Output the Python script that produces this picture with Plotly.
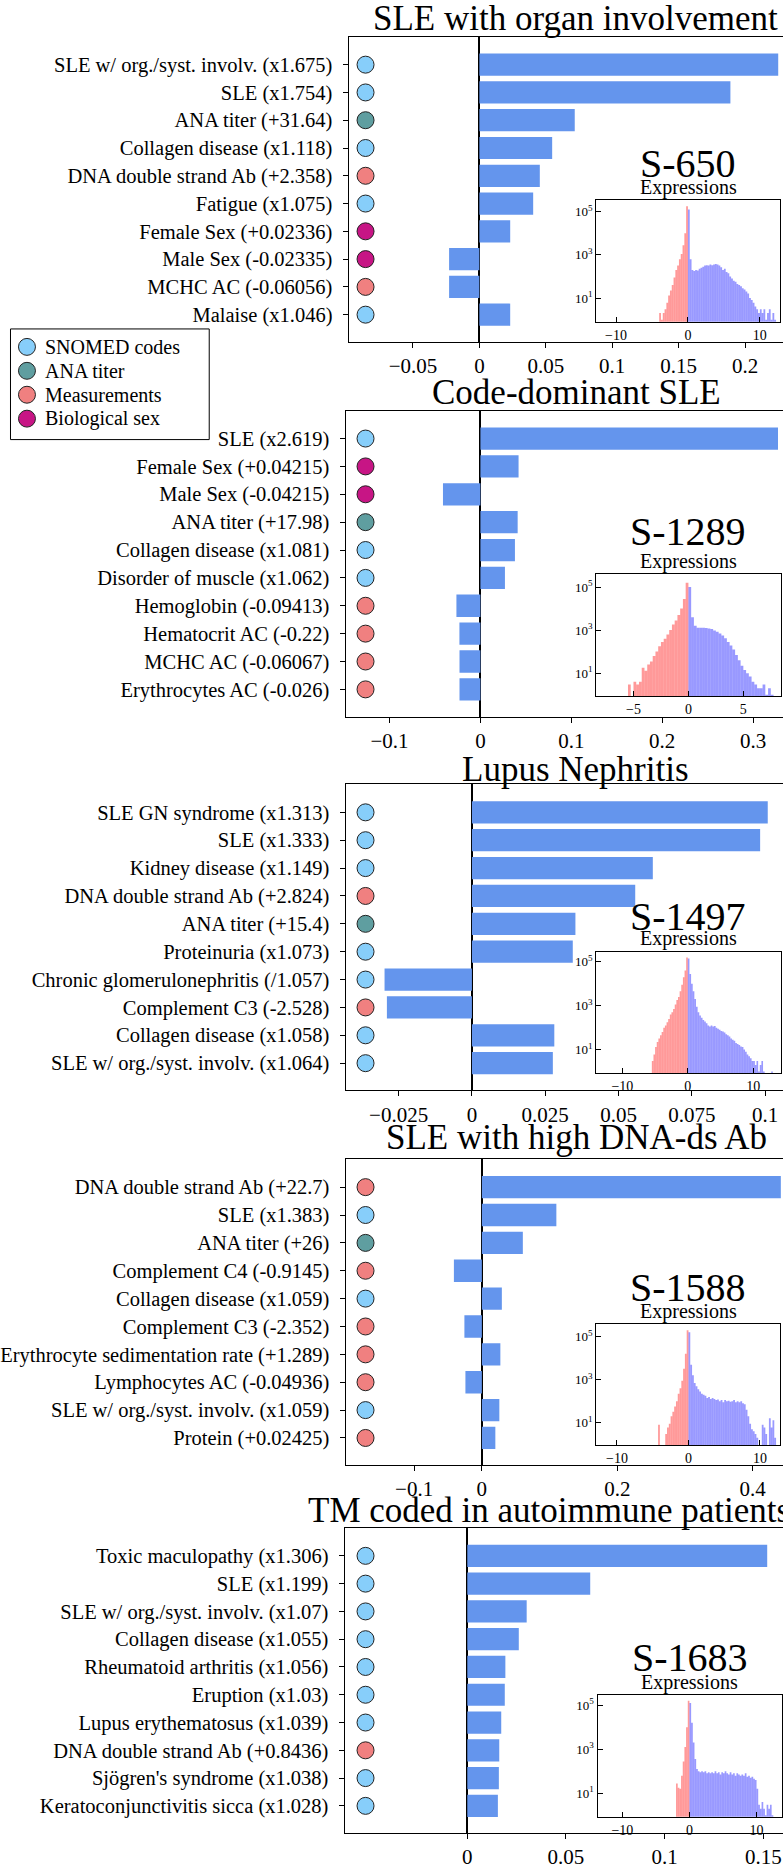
import plotly.graph_objects as go

# ---------------- data ----------------
CATEGORY_NAMES = {"S": "SNOMED codes", "A": "ANA titer", "M": "Measurements", "B": "Biological sex"}
CATEGORY_ORDER = ["S", "A", "M", "B"]

titles = ["SLE with organ involvement", "Code-dominant SLE", "Lupus Nephritis",
          "SLE with high DNA-ds Ab", "TM coded in autoimmune patients"]
inset_names = ["S-650", "S-1289", "S-1497", "S-1588", "S-1683"]

labels_1 = ["SLE w/ org./syst. involv. (x1.675)", "SLE (x1.754)", "ANA titer (+31.64)",
            "Collagen disease (x1.118)", "DNA double strand Ab (+2.358)", "Fatigue (x1.075)",
            "Female Sex (+0.02336)", "Male Sex (-0.02335)", "MCHC AC (-0.06056)", "Malaise (x1.046)"]
values_1 = [0.225, 0.189, 0.0718, 0.0548, 0.0455, 0.0405, 0.0232, -0.0228, -0.0228, 0.0232]
cats_1 = ["S", "S", "A", "S", "M", "S", "B", "B", "M", "S"]

labels_2 = ["SLE (x2.619)", "Female Sex (+0.04215)", "Male Sex (-0.04215)", "ANA titer (+17.98)",
            "Collagen disease (x1.081)", "Disorder of muscle (x1.062)", "Hemoglobin (-0.09413)",
            "Hematocrit AC (-0.22)", "MCHC AC (-0.06067)", "Erythrocytes AC (-0.026)"]
values_2 = [0.3275, 0.042, -0.0412, 0.041, 0.038, 0.027, -0.0264, -0.0231, -0.023, -0.023]
cats_2 = ["S", "B", "B", "A", "S", "S", "M", "M", "M", "M"]

labels_3 = ["SLE GN syndrome (x1.313)", "SLE (x1.333)", "Kidney disease (x1.149)",
            "DNA double strand Ab (+2.824)", "ANA titer (+15.4)", "Proteinuria (x1.073)",
            "Chronic glomerulonephritis (/1.057)", "Complement C3 (-2.528)",
            "Collagen disease (x1.058)", "SLE w/ org./syst. involv. (x1.064)"]
values_3 = [0.1009, 0.0983, 0.0617, 0.0557, 0.0353, 0.0344, -0.0298, -0.029, 0.0281, 0.0276]
cats_3 = ["S", "S", "S", "M", "A", "S", "S", "M", "S", "S"]

labels_4 = ["DNA double strand Ab (+22.7)", "SLE (x1.383)", "ANA titer (+26)",
            "Complement C4 (-0.9145)", "Collagen disease (x1.059)", "Complement C3 (-2.352)",
            "Erythrocyte sedimentation rate (+1.289)", "Lymphocytes AC (-0.04936)",
            "SLE w/ org./syst. involv. (x1.059)", "Protein (+0.02425)"]
values_4 = [0.4415, 0.110, 0.0605, -0.0413, 0.0295, -0.0258, 0.0273, -0.0243, 0.0258, 0.0199]
cats_4 = ["M", "S", "A", "M", "S", "M", "M", "M", "S", "M"]

labels_5 = ["Toxic maculopathy (x1.306)", "SLE (x1.199)", "SLE w/ org./syst. involv. (x1.07)",
            "Collagen disease (x1.055)", "Rheumatoid arthritis (x1.056)", "Eruption (x1.03)",
            "Lupus erythematosus (x1.039)", "DNA double strand Ab (+0.8436)",
            "Sjögren's syndrome (x1.038)", "Keratoconjunctivitis sicca (x1.028)"]
values_5 = [0.152, 0.0623, 0.0301, 0.0261, 0.0193, 0.019, 0.0172, 0.0162, 0.016, 0.0155]
cats_5 = ["S", "S", "S", "S", "S", "S", "S", "M", "S", "S"]

xticks_1 = [-0.05, 0, 0.05, 0.1, 0.15, 0.2]
xticktext_1 = ["\u22120.05", "0", "0.05", "0.1", "0.15", "0.2"]
xticks_2 = [-0.1, 0, 0.1, 0.2, 0.3]
xticktext_2 = ["\u22120.1", "0", "0.1", "0.2", "0.3"]
xticks_3 = [-0.025, 0, 0.025, 0.05, 0.075, 0.1]
xticktext_3 = ["\u22120.025", "0", "0.025", "0.05", "0.075", "0.1"]
xticks_4 = [-0.1, 0, 0.2, 0.4]
xticktext_4 = ["\u22120.1", "0", "0.2", "0.4"]
xticks_5 = [0, 0.05, 0.1, 0.15]
xticktext_5 = ["0", "0.05", "0.1", "0.15"]

# histogram counts of expressions, bins of width HIST_BIN going outwards from 0
HIST_BIN = 0.25
hist_red_1 = [178000, 10000, 2800, 1100, 630, 316, 200, 90, 40, 22, 13, 6, 3, 2, 1, 2]
hist_blue_1 = [126000, 630, 200, 178, 200, 190, 224, 250, 280, 316, 330, 316, 355, 330, 355, 380,
               355, 316, 263, 200, 224, 158, 141, 100, 80, 63, 56, 45, 40, 35, 28, 25, 20, 16, 10,
               8, 6, 4, 3, 2, 3, 2, 3, 1, 2, 3, 1, 2, 1]
hist_red_2 = [158000, 28000, 10000, 5000, 2800, 1800, 1000, 630, 400, 280, 180, 100, 63, 35, 25,
              13, 18, 4, 3, 4, 0, 3]
hist_blue_2 = [100000, 4000, 1600, 1300, 1300, 1300, 1250, 1200, 1120, 950, 830, 700, 560, 420,
               280, 190, 126, 70, 40, 22, 14, 10, 7, 4, 3, 2, 2, 3, 1, 2, 1]
hist_red_3 = [158000, 40000, 20000, 9000, 4500, 2500, 1800, 1120, 700, 500, 400, 250, 178, 126,
              100, 63, 45, 32, 22, 13, 6, 3]
hist_blue_3 = [141000, 28000, 10000, 4500, 2000, 900, 500, 355, 280, 224, 190, 158, 126, 112, 126,
               112, 120, 100, 90, 80, 71, 66, 60, 50, 45, 40, 32, 28, 25, 20, 18, 16, 14, 13, 10,
               8, 6, 5, 4, 3, 3, 2, 3, 1, 2, 3, 1, 0, 0, 0, 0, 1]
hist_red_4 = [200000, 16000, 3200, 900, 400, 224, 100, 56, 32, 20, 9, 6, 3, 0, 0, 0, 8]
hist_blue_4 = [158000, 5000, 1600, 700, 500, 355, 280, 224, 200, 178, 141, 158, 126, 141, 126, 112,
               120, 100, 112, 90, 112, 100, 105, 95, 100, 112, 90, 100, 90, 100, 80, 71, 40, 20, 9,
               5, 4, 3, 2, 0, 0, 8, 6, 3, 0, 16, 6, 13, 2]
hist_red_5 = [158000, 10000, 1260, 280, 63, 16, 18, 28]
hist_blue_5 = [126000, 16000, 2000, 355, 126, 100, 90, 100, 90, 100, 80, 90, 80, 90, 80, 100, 80,
               90, 71, 90, 80, 100, 80, 71, 90, 71, 80, 63, 80, 71, 63, 71, 63, 80, 56, 63, 50, 56,
               45, 40, 16, 3, 2, 4, 2, 1, 3, 2, 3, 1]

inset_xticks_1 = [-10, 0, 10]
inset_xticks_2 = [-5, 0, 5]
inset_xticks_3 = [-10, 0, 10]
inset_xticks_4 = [-10, 0, 10]
inset_xticks_5 = [-10, 0, 10]
log_ticks = [10, 1000, 100000]
log_ticktext = ["10<sup>1</sup>", "10<sup>3</sup>", "10<sup>5</sup>"]

# ---------------- styling / layout ----------------
W, H = 783, 1869
FONT = "Liberation Serif"
BAR_COLOR = "#6495ED"
CAT_COLORS = {"S": "#87CEFA", "A": "#5F9EA0", "M": "#F08080", "B": "#C71585"}
CIRCLE_X = 365  # pixel column of the category circles


def px_x(x):
    return x / W


def px_y(y):
    return 1 - y / H


data = [
    (labels_1, values_1, cats_1, xticks_1, xticktext_1, hist_red_1, hist_blue_1, inset_xticks_1),
    (labels_2, values_2, cats_2, xticks_2, xticktext_2, hist_red_2, hist_blue_2, inset_xticks_2),
    (labels_3, values_3, cats_3, xticks_3, xticktext_3, hist_red_3, hist_blue_3, inset_xticks_3),
    (labels_4, values_4, cats_4, xticks_4, xticktext_4, hist_red_4, hist_blue_4, inset_xticks_4),
    (labels_5, values_5, cats_5, xticks_5, xticktext_5, hist_red_5, hist_blue_5, inset_xticks_5),
]

geom = [
    dict(L=348, T=37, B=343, xr=[-0.0985, 0.2286], ty=19, tx=575, ta="center",
         il=596, ir=780, it=201, ib=322.7, ixr=[-12.75, 12.8], iyr=[-0.094, 5.52], sy=164, ey=188),
    dict(L=345, T=412, B=719, xr=[-0.1484, 0.333], ty=394, tx=576, ta="center",
         il=596, ir=780.7, it=576, ib=698.3, ixr=[-8.39, 8.4], iyr=[-0.065, 5.6], sy=533, ey=563),
    dict(L=345, T=787, B=1094, xr=[-0.0431, 0.1061], ty=772, tx=575, ta="center",
         il=596, ir=780.7, it=955, ib=1076.7, ixr=[-14.0, 14.2], iyr=[-0.077, 5.45], sy=919, ey=942),
    dict(L=345, T=1163, B=1470, xr=[-0.2013, 0.4447], ty=1141, tx=576, ta="center",
         il=596, ir=780, it=1328, ib=1449.7, ixr=[-12.9, 12.8], iyr=[-0.04, 5.6], sy=1292, ey=1316),
    dict(L=344, T=1533, B=1839, xr=[-0.0622, 0.1600], ty=1515, tx=305, ta="left",
         il=597.3, ir=781.7, it=1700, ib=1822.7, ixr=[-13.7, 13.75], iyr=[-0.07, 5.48], sy=1663, ey=1688),
]

fig = go.Figure()
layout = dict(width=W, height=H, margin=dict(l=0, r=0, t=0, b=0),
              paper_bgcolor="white", plot_bgcolor="white", barmode="overlay",
              font=dict(family=FONT, color="black"), showlegend=False)
annotations = []
shapes = []

for i, ((labels, values, cats, xt, xtt, hred, hblue, ixt), g) in enumerate(zip(data, geom)):
    mi = 2 * i + 1
    ii = 2 * i + 2
    mx, my = f"x{mi}", f"y{mi}"
    ix, iy = f"x{ii}", f"y{ii}"

    # main bars
    fig.add_trace(go.Bar(x=values, y=labels, orientation="h", width=0.8,
                         marker=dict(color=BAR_COLOR, line=dict(width=0)),
                         xaxis=mx, yaxis=my, hoverinfo="x+y"))
    # category circles placed near left edge of axes
    xmin, xmax = g["xr"]
    marker_x = xmin + (CIRCLE_X - g["L"]) / (W - g["L"]) * (xmax - xmin)
    for c in CATEGORY_ORDER:
        ys = [lab for lab, cc in zip(labels, cats) if cc == c]
        if not ys:
            continue
        fig.add_trace(go.Scatter(x=[marker_x] * len(ys), y=ys, mode="markers",
                                 marker=dict(size=17, color=CAT_COLORS[c],
                                             line=dict(color="#222222", width=1)),
                                 name=CATEGORY_NAMES[c], xaxis=mx, yaxis=my))

    # inset histograms
    red_x = [-(k + 0.5) * HIST_BIN for k in range(len(hred))]
    blue_x = [(k + 0.5) * HIST_BIN for k in range(len(hblue))]
    fig.add_trace(go.Bar(x=red_x, y=[v if v > 0 else None for v in hred], width=HIST_BIN,
                         marker=dict(color="rgba(255,0,0,0.4)", line=dict(width=0)),
                         xaxis=ix, yaxis=iy))
    fig.add_trace(go.Bar(x=blue_x, y=[v if v > 0 else None for v in hblue], width=HIST_BIN,
                         marker=dict(color="rgba(0,0,255,0.4)", line=dict(width=0)),
                         xaxis=ix, yaxis=iy))

    suffix_m = "" if mi == 1 else str(mi)
    suffix_i = str(ii)
    layout["xaxis" + suffix_m] = dict(
        domain=[px_x(g["L"]), 1.0], range=g["xr"], anchor=my,
        showline=True, mirror=True, linecolor="black", linewidth=1,
        showgrid=False, zeroline=True, zerolinecolor="black", zerolinewidth=2,
        ticks="outside", ticklen=5, tickwidth=1, tickcolor="black",
        tickmode="array", tickvals=xt, ticktext=xtt,
        tickfont=dict(family=FONT, size=21, color="black"))
    layout["yaxis" + suffix_m] = dict(
        domain=[px_y(g["B"]), px_y(g["T"])], anchor=mx, type="category",
        categoryorder="array", categoryarray=labels, range=[9.98, -1.0],
        showline=True, mirror=False, linecolor="black", linewidth=1, showgrid=False,
        zeroline=False, ticks="outside", ticklen=5, tickwidth=1, tickcolor="black",
        tickmode="array", tickvals=labels, ticktext=labels, ticklabelstandoff=6,
        tickfont=dict(family=FONT, size=20.5, color="black"))
    layout["xaxis" + suffix_i] = dict(
        domain=[px_x(g["il"]), px_x(g["ir"])], range=g["ixr"], anchor=iy,
        showline=True, mirror=True, linecolor="black", linewidth=1.3, showgrid=False,
        zeroline=False, ticks="inside", ticklen=5, tickwidth=1, tickcolor="black",
        tickmode="array", tickvals=ixt,
        ticktext=[("\u2212" + str(-v)) if v < 0 else str(v) for v in ixt],
        tickfont=dict(family=FONT, size=14, color="black"))
    layout["yaxis" + suffix_i] = dict(
        domain=[px_y(g["ib"]), px_y(g["it"])], range=g["iyr"], anchor=ix, type="log",
        showline=True, mirror=True, linecolor="black", linewidth=1.3, showgrid=False,
        zeroline=False, ticks="inside", ticklen=5, tickwidth=1, tickcolor="black",
        tickmode="array", tickvals=log_ticks, ticktext=log_ticktext,
        tickfont=dict(family=FONT, size=13, color="black"))

    annotations.append(dict(text=titles[i], x=px_x(g["tx"]), y=px_y(g["ty"]),
                            xref="paper", yref="paper", xanchor=g["ta"], yanchor="middle",
                            showarrow=False, font=dict(family=FONT, size=35, color="black")))
    icx = (g["il"] + g["ir"]) / 2
    annotations.append(dict(text=inset_names[i], x=px_x(icx), y=px_y(g["sy"]),
                            xref="paper", yref="paper", xanchor="center", yanchor="middle",
                            showarrow=False, font=dict(family=FONT, size=40, color="black")))
    annotations.append(dict(text="Expressions", x=px_x(icx), y=px_y(g["ey"]),
                            xref="paper", yref="paper", xanchor="center", yanchor="middle",
                            showarrow=False, font=dict(family=FONT, size=20, color="black")))

# ---- legend box (drawn by hand for tight matplotlib-like spacing) ----
LEG_BOX = (9.5, 330, 208.5, 441)
LEG_ROWS = [348, 372, 396, 420]
shapes.append(dict(type="rect", xref="paper", yref="paper",
                   x0=px_x(LEG_BOX[0]), x1=px_x(LEG_BOX[2]),
                   y0=px_y(LEG_BOX[3]), y1=px_y(LEG_BOX[1]),
                   line=dict(color="black", width=1), fillcolor="white", layer="above"))
for c, ry in zip(CATEGORY_ORDER, LEG_ROWS):
    shapes.append(dict(type="circle", xref="paper", yref="paper",
                       x0=px_x(26 - 8.5), x1=px_x(26 + 8.5), y0=px_y(ry + 8.5), y1=px_y(ry - 8.5),
                       line=dict(color="#222222", width=1), fillcolor=CAT_COLORS[c], layer="above"))
    annotations.append(dict(text=CATEGORY_NAMES[c], x=px_x(42), y=px_y(ry), xref="paper",
                            yref="paper", xanchor="left", yanchor="middle", showarrow=False,
                            font=dict(family=FONT, size=20, color="black")))

layout["annotations"] = annotations
layout["shapes"] = shapes
fig.update_layout(**layout)
fig.write_html("out.html", config={"displayModeBar": False},
               post_script="document.body.style.margin='0px';document.body.style.overflow='hidden';")
